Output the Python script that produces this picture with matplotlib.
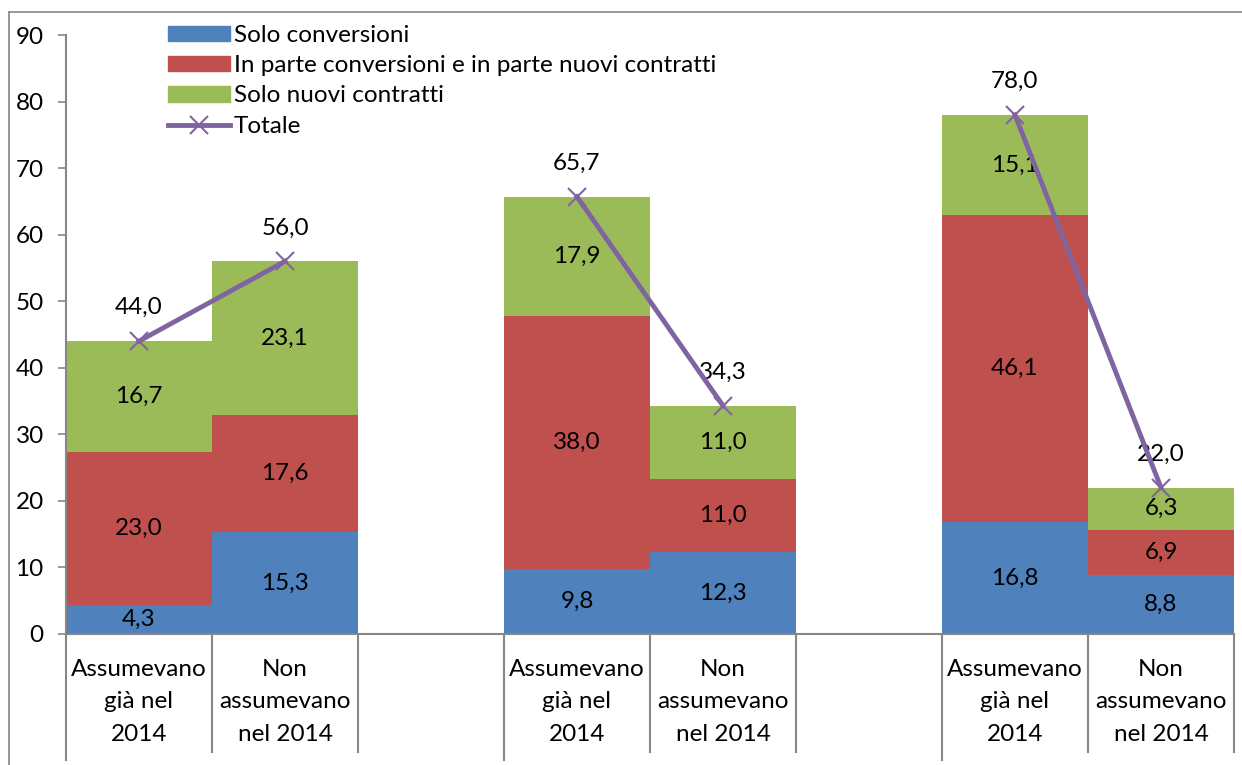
import matplotlib
matplotlib.use("Agg")
import matplotlib.pyplot as plt
from matplotlib.lines import Line2D
from matplotlib.patches import Patch
import matplotlib.transforms as mtransforms

plt.rcParams['font.family'] = ['Lato', 'DejaVu Sans']

categories = ["Assumevano\ngià nel\n2014", "Non\nassumevano\nnel 2014"] * 3
solo_conversioni = [4.3, 15.3, 9.8, 12.3, 16.8, 8.8]
in_parte = [23.0, 17.6, 38.0, 11.0, 46.1, 6.9]
solo_nuovi = [16.7, 23.1, 17.9, 11.0, 15.1, 6.3]
totale = [44.0, 56.0, 65.7, 34.3, 78.0, 22.0]
series_names = ["Solo conversioni", "In parte conversioni e in parte nuovi contratti",
                "Solo nuovi contratti", "Totale"]

colors = ["#4F81BD", "#C0504D", "#9BBB59"]
line_color = "#8064A2"
FS = 17.5

W, H = 1242, 765
fig = plt.figure(figsize=(W / 100, H / 100), dpi=100)
ax = fig.add_axes([66 / W, 131 / H, (1234 - 66) / W, (634 - 35) / H])

# positions: 2 bars per group, 1 empty slot between groups
xpos = []
for g in range(3):
    xpos += [g * 3, g * 3 + 1]

bottoms = [0] * 6
for vals, c in zip([solo_conversioni, in_parte, solo_nuovi], colors):
    ax.bar(xpos, vals, bottom=bottoms, width=1.0, color=c, edgecolor='none')
    for x, v, b in zip(xpos, vals, bottoms):
        ax.text(x, b + v / 2, f"{v:.1f}".replace('.', ','), ha='center', va='center',
                fontsize=FS, color='black')
    bottoms = [b + v for b, v in zip(bottoms, vals)]

for g in range(3):
    xs = xpos[2 * g:2 * g + 2]
    ys = totale[2 * g:2 * g + 2]
    ax.plot(xs, ys, color=line_color, lw=3.5, marker='x', ms=13, mew=1.5, zorder=5)
    for x, y in zip(xs, ys):
        ax.annotate(f"{y:.1f}".replace('.', ','), (x, y), xytext=(0, 24),
                    textcoords='offset points', ha='center', va='center', fontsize=FS)

ax.set_xlim(-0.5, 7.5)
ax.set_ylim(0, 90)
ax.set_yticks(range(0, 91, 10))
ax.tick_params(axis='y', length=6, width=1.2, color='#868686', labelsize=FS, pad=10)
ax.set_xticks([])
for s in ['top', 'right']:
    ax.spines[s].set_visible(False)
for s in ['left', 'bottom']:
    ax.spines[s].set_color('#868686')
    ax.spines[s].set_linewidth(1.5)

# category labels and separator lines
trans = mtransforms.blended_transform_factory(ax.transData, ax.transAxes)
for x, lab in zip(xpos, categories):
    ax.text(x, -0.041, lab, transform=trans, ha='center', va='top', fontsize=FS,
            linespacing=1.7)
for b in range(9):
    xb = b - 0.5
    is_group = (b % 3 == 0)
    ax.plot([xb, xb], [0, -0.21 if is_group else -0.197], transform=trans,
            color='#868686', lw=1.5, clip_on=False)

# legend
handles = [Patch(color=c) for c in colors] + [
    Line2D([0], [0], color=line_color, lw=3.5, marker='x', ms=13, mew=1.5)]
leg = fig.legend(handles, series_names, loc='upper left', bbox_to_anchor=(168 / W, 1 - 25 / H),
                 frameon=False, fontsize=FS, handlelength=2.55, handleheight=0.6,
                 handletextpad=0.15, labelspacing=0.38, borderaxespad=0, borderpad=0)

# chart border (left and top visible)
fig.add_artist(Line2D([9 / W, 9 / W], [0, 1 - 12 / H], color='#868686', lw=1.2))
fig.add_artist(Line2D([9 / W, 1], [1 - 12 / H, 1 - 12 / H], color='#868686', lw=1.2))

fig.savefig("out.png", dpi=100)
